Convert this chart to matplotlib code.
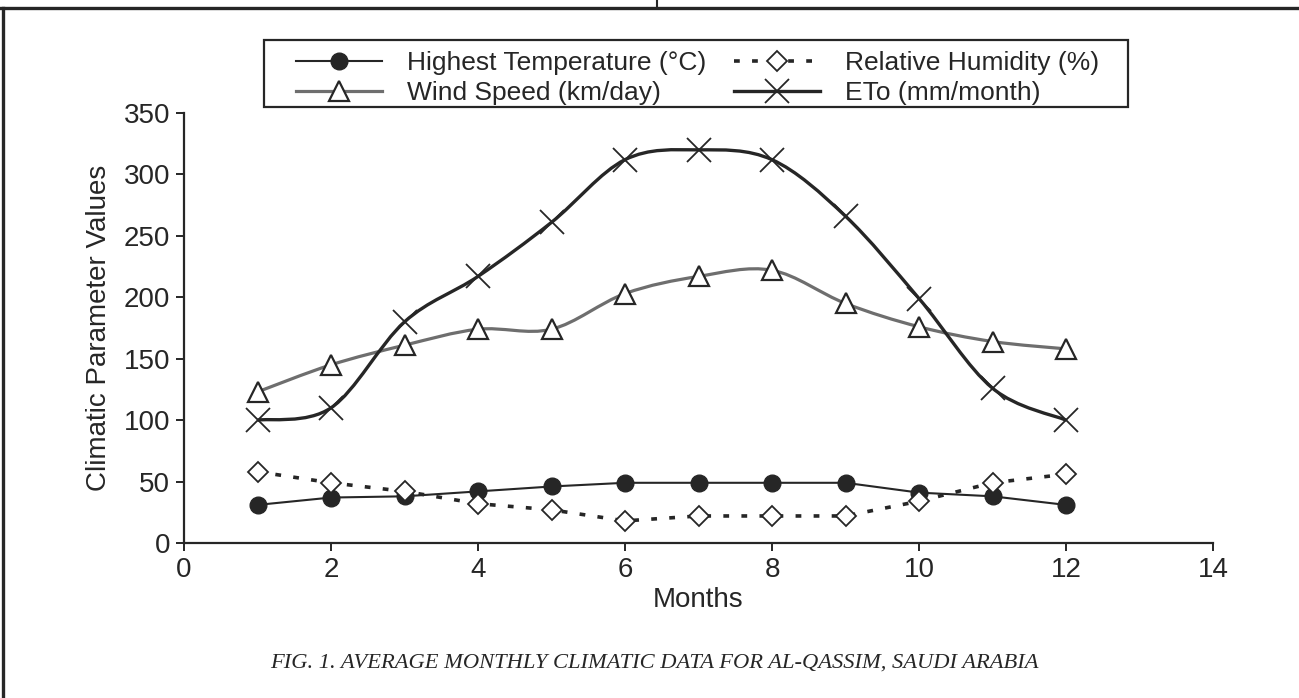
import numpy as np
import matplotlib.pyplot as plt
from matplotlib.path import Path
from matplotlib.patches import PathPatch, Rectangle
from matplotlib.lines import Line2D

plt.rcParams['font.family'] = ['Liberation Sans', 'DejaVu Sans']

months = [1, 2, 3, 4, 5, 6, 7, 8, 9, 10, 11, 12]
temp_max = [31, 37, 38, 42, 46, 49, 49, 49, 49, 41, 38, 31]
humidity = [58, 49, 42, 32, 27, 18, 22, 22, 22, 34, 49, 56]
wind = [123, 145, 161, 174, 174, 203, 217, 222, 195, 176, 164, 158]
eto = [100, 110, 180, 217, 261, 312, 320, 312, 266, 199, 126, 100]

labels = ['Highest Temperature (°C)', 'Relative Humidity (%)',
          'Wind Speed (km/day)', 'ETo (mm/month)']
caption = 'FIG. 1. AVERAGE MONTHLY CLIMATIC DATA FOR AL-QASSIM, SAUDI ARABIA'

INK = '#262626'
W, H = 1299, 698


def smooth_path(x, y):
    # Excel-style smoothed line: catmull-rom segments as cubic beziers
    x = np.asarray(x, float)
    y = np.asarray(y, float)
    verts = [(x[0], y[0])]
    codes = [Path.MOVETO]
    n = len(x)
    for i in range(n - 1):
        p0 = (x[max(i - 1, 0)], y[max(i - 1, 0)])
        p1 = (x[i], y[i])
        p2 = (x[i + 1], y[i + 1])
        p3 = (x[min(i + 2, n - 1)], y[min(i + 2, n - 1)])
        c1 = (p1[0] + (p2[0] - p0[0]) / 6, p1[1] + (p2[1] - p0[1]) / 6)
        c2 = (p2[0] - (p3[0] - p1[0]) / 6, p2[1] - (p3[1] - p1[1]) / 6)
        verts += [c1, c2, p2]
        codes += [Path.CURVE4] * 3
    return Path(verts, codes)


fig = plt.figure(figsize=(12.99, 6.98), dpi=100)
ax = fig.add_axes([184 / W, 1 - 543 / H, (1213 - 184) / W, (543 - 113) / H])

# temperature: straight line, filled circles
ax.plot(months, temp_max, color=INK, lw=1.5, marker='o', ms=12,
        mfc=INK, mec=INK, zorder=4)

# humidity: square-dot dashes, open diamonds
ax.plot(months, humidity, color=INK, lw=2.6, dashes=(1.6, 3.4),
        zorder=3)
ax.plot(months, humidity, ls='none', marker='D', ms=10, mfc='white',
        mec=INK, mew=1.3, zorder=5)

# wind speed: smoothed gray textured line, open triangles
ax.add_patch(PathPatch(smooth_path(months, wind), fill=False, ec='#6e6e6e',
                       lw=2.3, zorder=3))
ax.plot(months, wind, ls='none', marker='^', ms=15, mfc='white',
        mec=INK, mew=1.6, zorder=5)

# ETo: smoothed dark line, x markers
ax.add_patch(PathPatch(smooth_path(months, eto), fill=False, ec=INK,
                       lw=2.4, zorder=3))
ax.plot(months, eto, ls='none', marker='x', ms=17, mec=INK, mew=1.3,
        zorder=5)

ax.set_xlim(0, 14)
ax.set_ylim(0, 350)
ax.set_xticks(range(0, 15, 2))
ax.set_yticks(range(0, 351, 50))
for s in ['top', 'right']:
    ax.spines[s].set_visible(False)
for s in ['left', 'bottom']:
    ax.spines[s].set_linewidth(1.6)
    ax.spines[s].set_color(INK)
ax.tick_params(axis='both', direction='out', length=6, width=1.4,
               colors=INK, labelsize=20)
ax.tick_params(axis='y', pad=4)
ax.tick_params(axis='x', pad=4)
ax.set_xlabel('Months', fontsize=20, color=INK, labelpad=3)
ax.set_ylabel('Climatic Parameter Values', fontsize=20, color=INK,
              labelpad=8)

handles = [
    Line2D([], [], color=INK, lw=1.5, marker='o', ms=12, mfc=INK, mec=INK),
    Line2D([], [], color='#6e6e6e', lw=2.3, marker='^', ms=15, mfc='white',
           mec=INK, mew=1.6),
    Line2D([], [], color=INK, lw=2.6, dashes=(1.6, 3.4), marker='D', ms=10,
           mfc='white', mec=INK, mew=1.3),
    Line2D([], [], color=INK, lw=2.4, marker='x', ms=17, mec=INK, mew=1.3),
]
leg_labels = [labels[0], labels[2], labels[1], labels[3]]
leg = fig.legend(handles, leg_labels, ncol=2, loc='upper left',
                 bbox_to_anchor=(296 / W, 1 - 51 / H),
                 frameon=False, fontsize=19,
                 handlelength=3.25, handletextpad=0.95, columnspacing=1.05,
                 borderpad=0, labelspacing=0.24, borderaxespad=0)
for t in leg.get_texts():
    t.set_color(INK)

# legend box
fig.add_artist(Rectangle((264 / W, 1 - 107 / H), (1128 - 264) / W,
                         (107 - 40) / H, fill=False, ec=INK, lw=1.6,
                         transform=fig.transFigure))

fig.text(654 / W, 1 - 663 / H, caption, ha='center', va='center',
         fontsize=16.2, style='italic', color=INK,
         family=['Liberation Serif', 'DejaVu Serif'])

# outer page frame
fig.add_artist(Line2D([0, 1], [1 - 8 / H] * 2, color=INK, lw=2.4,
                      transform=fig.transFigure))
fig.add_artist(Line2D([3 / W] * 2, [0, 1 - 8 / H], color=INK, lw=2.4,
                      transform=fig.transFigure))
fig.add_artist(Line2D([657 / W] * 2, [1 - 8 / H, 1], color=INK, lw=1.5,
                      transform=fig.transFigure))

fig.savefig('out.png', dpi=100)
